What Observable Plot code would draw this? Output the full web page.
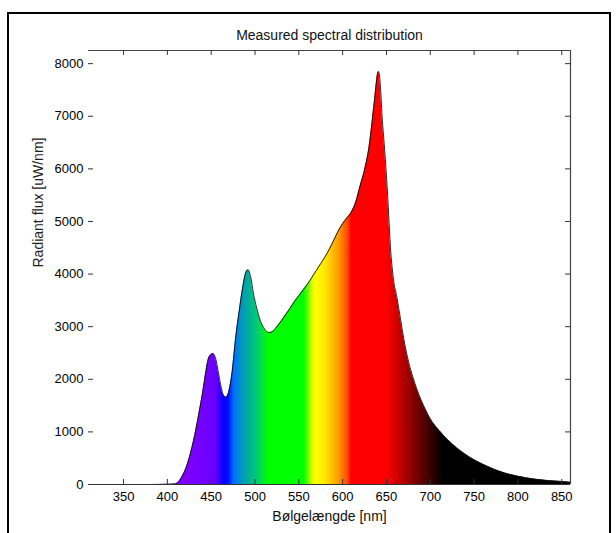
<!DOCTYPE html>
<html>
<head>
<meta charset="utf-8">
<script src="https://cdn.jsdelivr.net/npm/d3@7"></script>
<script src="https://cdn.jsdelivr.net/npm/@observablehq/plot@0.6"></script>
<style>
  html, body { margin: 0; padding: 0; background: #fff; }
  #wrap { position: relative; width: 616px; height: 533px; overflow: hidden; background: #fff; }
  #border { position: absolute; left: 7px; top: 12px; width: 600px; height: 560px; border: 2px solid #000; box-sizing: content-box; }
  #chart { position: absolute; left: 0; top: 0; }
</style>
</head>
<body>
<div id="wrap"><div id="border"></div><div id="chart"></div></div>
<script>
// Wavelength (nm) and measured radiant flux (uW/nm)
const wavelengths = [320, 340, 360, 380, 400, 408, 412, 416, 420, 424, 428, 432, 436, 440, 444, 447, 450, 452, 455, 458, 461, 464, 467, 470, 474, 478, 482, 486, 489, 492, 495, 498, 502, 506, 510, 514, 517, 520, 525, 530, 535, 540, 545, 550, 555, 560, 565, 570, 575, 580, 585, 590, 595, 600, 605, 610, 615, 620, 625, 630, 634, 637, 640, 641, 643, 645, 648, 651, 655, 658, 662, 666, 670, 675, 680, 685, 690, 695, 700, 710, 720, 730, 740, 750, 760, 770, 780, 790, 800, 810, 820, 830, 840, 850, 856, 860];
const flux = [0, 0, 0, 0, 5, 10, 40, 130, 260, 450, 700, 1000, 1350, 1720, 2150, 2400, 2470, 2490, 2400, 2150, 1880, 1700, 1660, 1760, 2150, 2800, 3300, 3750, 4000, 4080, 3950, 3650, 3350, 3120, 2980, 2900, 2890, 2910, 3000, 3110, 3230, 3350, 3480, 3590, 3700, 3810, 3940, 4070, 4200, 4330, 4480, 4650, 4820, 4960, 5070, 5180, 5370, 5680, 5980, 6400, 6950, 7400, 7820, 7850, 7600, 7000, 6350, 5600, 4400, 3900, 3550, 3150, 2750, 2350, 2050, 1800, 1590, 1410, 1250, 1030, 850, 700, 575, 470, 385, 310, 245, 195, 155, 125, 100, 82, 68, 56, 48, 42];

// Tick values
const xTicks = [350, 400, 450, 500, 550, 600, 650, 700, 750, 800, 850];
const yTicks = [0, 1000, 2000, 3000, 4000, 5000, 6000, 7000, 8000];

// Spectrum colour stops (wavelength -> colour)
const colorStopNm = [405, 455, 461, 465, 470, 476, 488, 503, 515, 556, 566, 570, 580, 596, 606, 610, 650, 715];
const colorStopHex = ["#8800ff", "#6a00ff", "#2800ff", "#0000ff", "#0010ff", "#0070ff", "#00a0b0", "#00cc70", "#00ff00", "#00ff00", "#e0ff00", "#ffff00", "#ffe800", "#ff9a00", "#ff4800", "#ff0000", "#ff0000", "#000000"];

const titleText = "Measured spectral distribution";
const xLabel = "Bølgelængde [nm]";
const yLabel = "Radiant flux [uW/nm]";

const data = wavelengths.map((w, i) => ({w, v: flux[i]}));
const xDomain = [310, 860];
const yDomain = [0, 8250];

const plot = Plot.plot({
  width: 616,
  height: 533,
  marginLeft: 88,
  marginRight: 46,
  marginTop: 50,
  marginBottom: 49,
  style: {fontFamily: "Liberation Sans, Arial, sans-serif", fontSize: "13px", color: "#000", background: "transparent"},
  x: {domain: xDomain, ticks: xTicks, tickSize: 0, tickPadding: 7, tickFormat: d => String(d), label: null},
  y: {domain: yDomain, ticks: yTicks, tickSize: 0, tickPadding: 5, tickFormat: d => String(d), label: null},
  marks: [
    Plot.areaY(data, {x: "w", y: "v", curve: "monotone-x", fill: "url(#specgrad)"}),
    Plot.lineY(data, {x: "w", y: "v", curve: "monotone-x", stroke: "#111", strokeWidth: 0.9}),
    Plot.ruleY([0], {stroke: "#333", strokeWidth: 1}),
    Plot.ruleY([yDomain[1]], {stroke: "#444", strokeWidth: 1.2}),
    Plot.ruleX([xDomain[1]], {stroke: "#444", strokeWidth: 1.2}),
    Plot.ruleX(xTicks, {x: d => d, insetTop: 429, stroke: "#333"}),
    Plot.ruleX(xTicks, {x: d => d, insetBottom: 429, stroke: "#333"}),
    Plot.ruleY(yTicks, {y: d => d, insetRight: 477, stroke: "#333"}),
    Plot.ruleY(yTicks.filter(d => d > 0), {y: d => d, insetLeft: 477, stroke: "#333"}),
    Plot.text([titleText], {frameAnchor: "top", dy: -20, fontSize: 14, fill: "#111"}),
    Plot.text([xLabel], {frameAnchor: "bottom", dy: 36, fontSize: 14, fill: "#111"}),
    Plot.text([yLabel], {frameAnchor: "left", dx: -50, rotate: -90, fontSize: 14, fill: "#222"})
  ]
});

// Build the spectrum gradient from the colour stops using the plot's x scale
const xs = plot.scale("x");
const gx0 = xs.apply(colorStopNm[0]);
const gx1 = xs.apply(colorStopNm[colorStopNm.length - 1]);
const defs = d3.select(plot).insert("defs", ":first-child");
const grad = defs.append("linearGradient")
  .attr("id", "specgrad")
  .attr("gradientUnits", "userSpaceOnUse")
  .attr("x1", gx0).attr("x2", gx1).attr("y1", 0).attr("y2", 0);
colorStopNm.forEach((nm, i) => {
  grad.append("stop")
    .attr("offset", (xs.apply(nm) - gx0) / (gx1 - gx0))
    .attr("stop-color", colorStopHex[i]);
});

document.getElementById("chart").appendChild(plot);
</script>
</body>
</html>
